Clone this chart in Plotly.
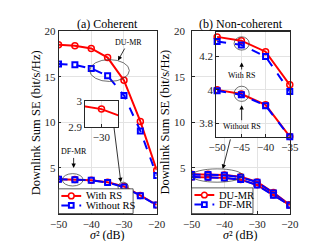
import plotly.graph_objects as go

# ---------------- data ----------------
snr = [-50, -45, -40, -35, -30, -25, -20]
# (a) Coherent
a_du_rs = [18.5, 18.4, 18.1, 17.1, 14.6, 10.1, 4.75]
a_du_nors = [16.4, 16.3, 15.9, 15.1, 12.95, 9.06, 4.17]
a_df_rs = [3.77, 3.72, 3.66, 3.42, 2.97, 1.98, 0.94]
a_df_nors = [3.76, 3.71, 3.65, 3.40, 2.897, 1.96, 0.93]
# (b) Non-coherent
b_du_rs = [4.318, 4.295, 4.229, 4.03, 3.47, 2.30, 0.95]
b_df_rs = [4.290, 4.270, 4.200, 3.99, 3.42, 2.25, 0.94]
b_du_nors = [4.000, 3.975, 3.910, 3.72, 3.15, 2.03, 0.93]
b_df_nors = [3.995, 3.970, 3.905, 3.718, 3.12, 2.00, 0.92]

legend_a = ["With RS", "Without RS"]
legend_b = ["DU-MR", "DF-MR"]

main_yticks = [5, 10, 15, 20]
main_xticks = [-50, -40, -30, -20]
insb_xticks = [-50, -45, -40, -35]
insb_yticks = [3.8, 4.0, 4.2]
insa_yticks = [2.9, 3.0]
insa_xticks = [-30]

W, H = 321, 241
FONT = "Liberation Serif"
RED = "#FF0000"
BLUE = "#0000FF"
AX = "#262626"


def px(x):
    return x / W


def py(y):
    return 1 - y / H


red_line = dict(color=RED, width=2)
blue_line = dict(color=BLUE, width=2, dash="dash")
red_mk = dict(symbol="circle-open", size=6, color=RED, line=dict(width=1.5, color=RED))
blue_mk = dict(symbol="square-open", size=5, color=BLUE, line=dict(width=2, color=BLUE))

fig = go.Figure()


def add(y, xa, ya, red):
    fig.add_trace(go.Scatter(
        x=snr, y=y, xaxis=xa, yaxis=ya, mode="lines+markers",
        line=red_line if red else blue_line,
        marker=red_mk if red else blue_mk,
        showlegend=False, cliponaxis=False if xa in ("x3", "x4") else True,
    ))


# left main
add(a_du_rs, "x", "y", True)
add(a_du_nors, "x", "y", False)
add(a_df_rs, "x", "y", True)
add(a_df_nors, "x", "y", False)
# right main
add(b_du_rs, "x2", "y2", True)
add(b_df_rs, "x2", "y2", False)
add(b_du_nors, "x2", "y2", True)
add(b_df_nors, "x2", "y2", False)
# left inset
add(a_df_rs, "x3", "y3", True)
add(a_df_nors, "x3", "y3", False)
# right inset
add(b_du_rs, "x4", "y4", True)
add(b_df_rs, "x4", "y4", False)
add(b_du_nors, "x4", "y4", True)
add(b_df_nors, "x4", "y4", False)


def axis(domain, rng, ticks, anchor, size=11, labels=True):
    return dict(domain=domain, range=rng, tickvals=ticks, anchor=anchor,
                showline=True, mirror=True, linecolor=AX, linewidth=0.75,
                ticks="inside", ticklen=3, tickcolor=AX, tickwidth=0.75,
                showgrid=True, gridcolor="#e3e3e3", gridwidth=0.75, zeroline=False,
                showticklabels=labels,
                tickfont=dict(family=FONT, size=size, color=AX))


ydom = [py(210), py(18)]
fig.update_layout(
    width=W, height=H, margin=dict(l=0, r=0, t=0, b=0),
    paper_bgcolor="white", plot_bgcolor="white",
    font=dict(family=FONT, color="black"),
    showlegend=False,
    xaxis=axis([px(44), px(148)], [-50, -20], main_xticks, "y"),
    yaxis=axis(ydom, [0, 20], main_yticks, "x"),
    xaxis2=axis([px(185), px(289)], [-50, -20], main_xticks, "y2"),
    yaxis2=axis(ydom, [0, 20], main_yticks, "x2", labels=False),
    xaxis3=axis([px(72), px(107)], [-30.12, -29.88], insa_xticks, "y3"),
    yaxis3=axis([py(119), py(92)], [2.9, 3.0], insa_yticks, "x3"),
    xaxis4=axis([px(211), px(289)], [-50.2, -35], insb_xticks, "y4"),
    yaxis4=axis([py(129.3), py(19)], [3.718, 4.347], insb_yticks, "x4"),
)

ann = []
shapes = []


def text(x, y, t, size=12, angle=0, xanchor="center"):
    ann.append(dict(x=px(x), y=py(y), xref="paper", yref="paper", text=t, showarrow=False,
                    textangle=angle, font=dict(family=FONT, size=size, color="black"),
                    xanchor=xanchor, yanchor="middle"))


def arrow(tx, ty, hx, hy, t="", size=8):
    ann.append(dict(x=px(hx), y=py(hy), xref="paper", yref="paper", text=t, showarrow=True,
                    ax=tx - hx, ay=ty - hy, axref="pixel", ayref="pixel",
                    arrowhead=2, arrowsize=1.1, arrowwidth=0.8, arrowcolor="black",
                    font=dict(family=FONT, size=size, color="black")))


def ell(x0, y0, x1, y1):
    shapes.append(dict(type="circle", xref="paper", yref="paper",
                       x0=px(x0), x1=px(x1), y0=py(y1), y1=py(y0),
                       line=dict(color="#404040", width=0.75), layer="above"))


def legend_box(x0, y0, x1, y1, labels):
    shapes.append(dict(type="rect", xref="paper", yref="paper",
                       x0=px(x0), x1=px(x1), y0=py(y1), y1=py(y0),
                       fillcolor="white", line=dict(color=AX, width=0.75), layer="above"))
    rows = [y0 + 7.5, y0 + 17.5]
    for i, (lab, ry) in enumerate(zip(labels, rows)):
        red = i == 0
        col = RED if red else BLUE
        shapes.append(dict(type="line", xref="paper", yref="paper",
                           x0=px(x0 + 3), x1=px(x0 + 24), y0=py(ry), y1=py(ry),
                           line=dict(color=col, width=2, dash="solid" if red else "dash"),
                           layer="above"))
        cx = x0 + 13.5
        r = 3 if red else 2.5
        shapes.append(dict(type="circle" if red else "rect", xref="paper", yref="paper",
                           x0=px(cx - r), x1=px(cx + r), y0=py(ry + r), y1=py(ry - r),
                           line=dict(color=col, width=1.5 if red else 2),
                           fillcolor="white", layer="above"))
        text(x0 + 26.5, ry, lab, 10.5, xanchor="left")


text(96, 11, "(a) Coherent", 12)
text(237, 11, "(b) Non-coherent", 12)
text(96, 233, "<i>σ</i>² (dB)", 12)
text(237, 233, "<i>σ</i>² (dB)", 12)
text(20, 114, "Downlink Sum SE (bit/s/Hz)", 12.5, -90)
text(157, 114, "Downlink Sum SE (bit/s/Hz)", 12.5, -90)
# right-panel main y tick labels, placed on the y2 scale
for v in main_yticks:
    ann.append(dict(x=px(181.5), y=v, xref="paper", yref="y2", text=str(v), showarrow=False,
                    xanchor="right", yanchor="middle",
                    font=dict(family=FONT, size=11, color=AX)))
arrow(117, 31, 107, 49, "DU-MR")
arrow(60, 146, 60, 162, "DF-MR")
arrow(103, 121, 110, 177)
arrow(238, 64, 238, 51, "With RS")
arrow(238, 117, 238, 96, "Without RS")
arrow(226, 132, 218, 163)

ell(77, 48, 119, 71)
ell(48, 168, 70, 181)
ell(107, 177, 118, 187)
ell(230, 24, 246, 38)
ell(230, 76, 246, 92)
ell(185, 163, 239, 177)

legend_box(44, 184, 123, 210, legend_a)
legend_box(185, 183, 250, 210, legend_b)

fig.update_layout(annotations=ann, shapes=shapes)

fig.write_html("out.html")
